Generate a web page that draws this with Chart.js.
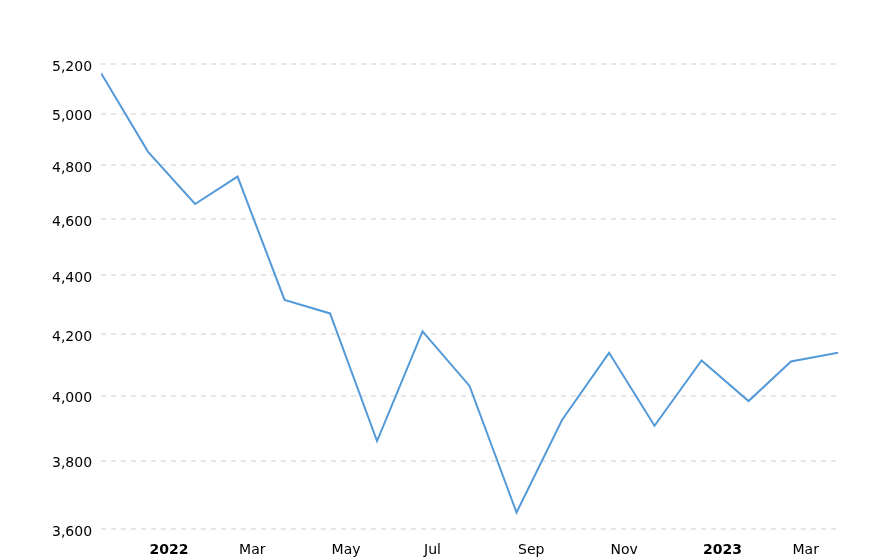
<!DOCTYPE html>
<html>
<head>
<meta charset="utf-8">
<script src="https://cdn.jsdelivr.net/npm/chart.js@4/dist/chart.umd.min.js"></script>
<style>
  html, body { margin: 0; padding: 0; background: #fff; }
  #wrap { width: 888px; height: 560px; position: relative; }
</style>
</head>
<body>
<div id="wrap"><canvas id="c"></canvas></div>
<script>
// Month-end observation dates
const dates = ['2021-11-30','2021-12-31','2022-01-31','2022-02-28','2022-03-31','2022-04-30',
  '2022-05-31','2022-06-30','2022-07-31','2022-08-31','2022-09-30','2022-10-31',
  '2022-11-30','2022-12-31','2023-01-31','2023-02-28','2023-03-31'];
const values = [5162, 4851, 4655, 4757, 4315, 4269, 3859, 4209, 4031, 3647, 3924, 4138,
  3906, 4113, 3983, 4110, 4138];
// X tick labels placed at the first day of these months
const xTickDates = ['2022-01-01','2022-03-01','2022-05-01','2022-07-01','2022-09-01','2022-11-01','2023-01-01','2023-03-01'];
const xTickLabels = ['2022','Mar','May','Jul','Sep','Nov','2023','Mar'];
const yTicks = [3600, 3800, 4000, 4200, 4400, 4600, 4800, 5000, 5200];
const yMin = 3585, yMax = 5200;

const epoch = Date.UTC(2022, 0, 1);
function dayNum(s) {
  const p = s.split('-').map(Number);
  return (Date.UTC(p[0], p[1] - 1, p[2]) - epoch) / 864e5;
}
const xs = dates.map(dayNum);
const xTickVals = xTickDates.map(dayNum);
const points = xs.map((x, i) => ({ x: x, y: values[i] }));

new Chart(document.getElementById('c'), {
  type: 'line',
  data: {
    datasets: [{
      data: points,
      borderColor: '#5499d8',
      borderWidth: 2,
      pointRadius: 0,
      tension: 0,
      fill: false
    }]
  },
  options: {
    responsive: true,
    maintainAspectRatio: false,
    animation: false,
    events: [],
    layout: { padding: { left: 43, right: 50, top: 64, bottom: -7 } },
    plugins: { legend: { display: false }, tooltip: { enabled: false } },
    scales: {
      x: {
        type: 'linear',
        min: xs[0],
        max: xs[xs.length - 1],
        afterBuildTicks: (s) => { s.ticks = xTickVals.map(v => ({ value: v })); },
        grid: { display: false, drawTicks: false },
        border: { display: false },
        ticks: {
          autoSkip: false,
          maxRotation: 0,
          align: 'start',
          padding: 8,
          color: '#000',
          font: (ctx) => {
            const i = ctx.index;
            const lab = xTickLabels[i] || '';
            return { family: 'DejaVu Sans', size: 14, weight: /^\d{4}$/.test(lab) ? 'bold' : 'normal' };
          },
          callback: (v, i) => xTickLabels[i]
        }
      },
      y: {
        type: 'logarithmic',
        min: yMin,
        max: yMax,
        afterBuildTicks: (s) => { s.ticks = yTicks.map(v => ({ value: v })); },
        grid: { color: '#e6e6e6', lineWidth: 2, drawTicks: false },
        border: { display: false, dash: [5, 5] },
        ticks: {
          autoSkip: false,
          padding: 9,
          labelOffset: 3,
          color: '#000',
          font: { family: 'DejaVu Sans', size: 14 },
          callback: (v) => Number(v).toLocaleString('en-US')
        }
      }
    }
  }
});
</script>
</body>
</html>
